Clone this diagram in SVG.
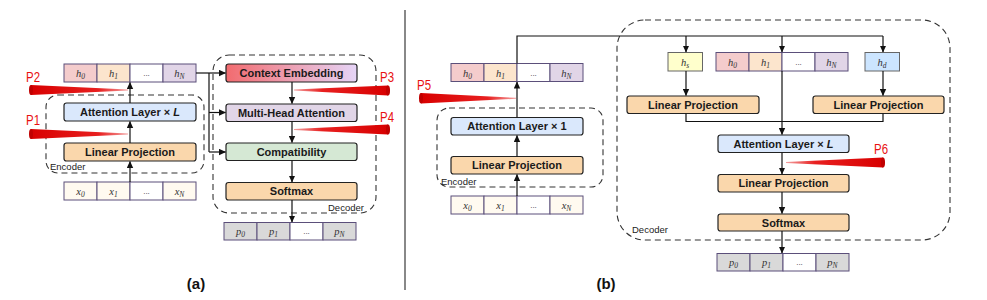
<svg xmlns="http://www.w3.org/2000/svg" width="987" height="300" viewBox="0 0 987 300">
<defs>
<marker id="arr" markerWidth="7" markerHeight="7" refX="6.5" refY="3.5" orient="auto" markerUnits="userSpaceOnUse"><path d="M0,0.3 L7,3.5 L0,6.7 z" fill="#111"/></marker>
<linearGradient id="ceGrad" x1="0" y1="0" x2="1" y2="0"><stop offset="0" stop-color="#f26b6f"/><stop offset="1" stop-color="#e6d5f8"/></linearGradient>
<linearGradient id="coneL" x1="0" y1="0" x2="1" y2="0"><stop offset="0" stop-color="#d80000"/><stop offset="0.7" stop-color="#e82020"/><stop offset="1" stop-color="#f3a0a0"/></linearGradient>
<linearGradient id="coneR" x1="1" y1="0" x2="0" y2="0"><stop offset="0" stop-color="#d80000"/><stop offset="0.7" stop-color="#e82020"/><stop offset="1" stop-color="#f3a0a0"/></linearGradient>
</defs>
<style>
.box{stroke:#222;stroke-width:1.2}
.lbl{font-family:"Liberation Sans",Arial,sans-serif;font-weight:bold;font-size:11px;fill:#1a1a1a;text-anchor:middle}
.cell{stroke:#5b4f7a;stroke-width:1}
.math{font-family:"Liberation Serif","Times New Roman",serif;font-style:italic;font-size:10.5px;fill:#333;text-anchor:middle}
.sub{font-size:7.5px}
.dots{font-family:"Liberation Sans",Arial,sans-serif;font-size:8px;fill:#333;text-anchor:middle}
.dash{fill:none;stroke:#333;stroke-width:1.1;stroke-dasharray:6,4}
.grp{font-family:"Liberation Sans",Arial,sans-serif;font-size:9.5px;fill:#222}
.pl{font-family:"Liberation Sans",Arial,sans-serif;font-size:14px;fill:#e81010}
.ln{fill:none;stroke:#111;stroke-width:1.2}
.cap{font-family:"Liberation Sans",Arial,sans-serif;font-weight:bold;font-size:15px;fill:#111;text-anchor:middle}
.pink{fill:#f4cccc}.peach{fill:#fce5cd}.white{fill:#fff}.lav{fill:#e1d5e7}.cream{fill:#fffaf0}.grey{fill:#d9d9d9}
</style>
<rect width="987" height="300" fill="#fff"/>
<line x1="405" y1="10" x2="405" y2="290" stroke="#888" stroke-width="2"/>

<!-- ===== Panel (a) ===== -->
<g id="encoder-a"><rect class="dash" x="46" y="95" width="158" height="78" rx="12"/><text class="grp" x="50" y="170">Encoder</text></g>
<g id="decoder-a"><rect class="dash" x="213" y="55" width="163" height="158" rx="16"/><text class="grp" x="328" y="211">Decoder</text></g>

<g id="h-row-a">
<rect class="cell pink" x="64" y="64" width="33" height="18"/><rect class="cell peach" x="97" y="64" width="33" height="18"/><rect class="cell white" x="130" y="64" width="33" height="18"/><rect class="cell lav" x="163" y="64" width="33" height="18"/>
<text class="math" x="80.5" y="77">h<tspan class="sub" dy="2">0</tspan></text><text class="math" x="113.5" y="77">h<tspan class="sub" dy="2">1</tspan></text><text class="dots" x="146.5" y="76">...</text><text class="math" x="179.5" y="77">h<tspan class="sub" dy="2">N</tspan></text>
</g>
<g id="attn-a"><rect class="box" x="64" y="103" width="132" height="18" rx="2.5" fill="#dae8fc"/><text class="lbl" x="130" y="116">Attention Layer × <tspan font-style="italic">L</tspan></text></g>
<g id="lp-a"><rect class="box" x="64" y="143" width="132" height="18" rx="2.5" fill="#fad7ac"/><text class="lbl" x="130" y="156">Linear Projection</text></g>
<g id="x-row-a">
<rect class="cell cream" x="64" y="182" width="33" height="18"/><rect class="cell cream" x="97" y="182" width="33" height="18"/><rect class="cell white" x="130" y="182" width="33" height="18"/><rect class="cell cream" x="163" y="182" width="33" height="18"/>
<text class="math" x="80.5" y="195">x<tspan class="sub" dy="2">0</tspan></text><text class="math" x="113.5" y="195">x<tspan class="sub" dy="2">1</tspan></text><text class="dots" x="146.5" y="194">...</text><text class="math" x="179.5" y="195">x<tspan class="sub" dy="2">N</tspan></text>
</g>

<g id="ce-a"><rect class="box" x="226" y="64" width="131" height="18" rx="2.5" fill="url(#ceGrad)"/><text class="lbl" x="291.5" y="77">Context Embedding</text></g>
<g id="mha-a"><rect class="box" x="226" y="104" width="131" height="17.5" rx="2.5" fill="#e1d5e7"/><text class="lbl" x="291.5" y="116.5">Multi-Head Attention</text></g>
<g id="comp-a"><rect class="box" x="226" y="143" width="131" height="17.5" rx="2.5" fill="#d5e8d4"/><text class="lbl" x="291.5" y="155.5">Compatibility</text></g>
<g id="softmax-a"><rect class="box" x="226" y="182.5" width="131" height="17.5" rx="2.5" fill="#fad7ac"/><text class="lbl" x="291.5" y="195">Softmax</text></g>
<g id="p-row-a">
<rect class="cell grey" x="224" y="222.5" width="33" height="17.5"/><rect class="cell grey" x="257" y="222.5" width="33" height="17.5"/><rect class="cell white" x="290" y="222.5" width="33" height="17.5"/><rect class="cell grey" x="323" y="222.5" width="33" height="17.5"/>
<text class="math" x="240.5" y="235">p<tspan class="sub" dy="2">0</tspan></text><text class="math" x="273.5" y="235">p<tspan class="sub" dy="2">1</tspan></text><text class="dots" x="306.5" y="234">...</text><text class="math" x="339.5" y="235">p<tspan class="sub" dy="2">N</tspan></text>
</g>

<g id="connectors-a">
<line class="ln" x1="130" y1="182" x2="130" y2="161.5" marker-end="url(#arr)"/>
<line class="ln" x1="130" y1="143" x2="130" y2="121.5" marker-end="url(#arr)"/>
<line class="ln" x1="130" y1="103" x2="130" y2="82.5" marker-end="url(#arr)"/>
<line class="ln" x1="196" y1="73" x2="225.5" y2="73" marker-end="url(#arr)"/>
<polyline class="ln" points="209,73 209,152"/>
<line class="ln" x1="209" y1="112.5" x2="225.5" y2="112.5" marker-end="url(#arr)"/>
<line class="ln" x1="209" y1="152" x2="225.5" y2="152" marker-end="url(#arr)"/>
<line class="ln" x1="292" y1="82" x2="292" y2="103.5" marker-end="url(#arr)"/>
<line class="ln" x1="292" y1="121.5" x2="292" y2="142.5" marker-end="url(#arr)"/>
<line class="ln" x1="292" y1="160.5" x2="292" y2="182" marker-end="url(#arr)"/>
<line class="ln" x1="292" y1="200" x2="292" y2="222" marker-end="url(#arr)"/>
</g>

<g id="probes-a">
<polygon points="31,85 128,89.5 128,90.5 31,95" fill="url(#coneL)"/><ellipse cx="31" cy="90" rx="2" ry="5" fill="#c00000"/><text class="pl" x="26" y="82" textLength="14" lengthAdjust="spacingAndGlyphs">P2</text>
<polygon points="31,129 128,133.5 128,134.5 31,139" fill="url(#coneL)"/><ellipse cx="31" cy="134" rx="2" ry="5" fill="#c00000"/><text class="pl" x="26" y="125" textLength="14" lengthAdjust="spacingAndGlyphs">P1</text>
<polygon points="388,85.5 294,89.5 294,90.5 388,95.5" fill="url(#coneR)"/><ellipse cx="388" cy="90.5" rx="2" ry="5" fill="#c00000"/><text class="pl" x="380" y="82" textLength="14" lengthAdjust="spacingAndGlyphs">P3</text>
<polygon points="388,124.5 294,129 294,130 388,134.5" fill="url(#coneR)"/><ellipse cx="388" cy="129.5" rx="2" ry="5" fill="#c00000"/><text class="pl" x="380" y="121.5" textLength="14" lengthAdjust="spacingAndGlyphs">P4</text>
</g>
<text class="cap" x="196" y="289">(a)</text>

<!-- ===== Panel (b) ===== -->
<g id="encoder-b"><rect class="dash" x="437" y="108" width="166" height="79" rx="12"/><text class="grp" x="441" y="185">Encoder</text></g>
<g id="decoder-b"><rect class="dash" x="617" y="20" width="333" height="220" rx="28"/><text class="grp" x="632" y="233">Decoder</text></g>

<g id="h-row-b">
<rect class="cell pink" x="451" y="63.5" width="33" height="18"/><rect class="cell peach" x="484" y="63.5" width="33" height="18"/><rect class="cell white" x="517" y="63.5" width="33" height="18"/><rect class="cell lav" x="550" y="63.5" width="33" height="18"/>
<text class="math" x="467.5" y="76.5">h<tspan class="sub" dy="2">0</tspan></text><text class="math" x="500.5" y="76.5">h<tspan class="sub" dy="2">1</tspan></text><text class="dots" x="533.5" y="75.5">...</text><text class="math" x="566.5" y="76.5">h<tspan class="sub" dy="2">N</tspan></text>
</g>
<g id="attn1-b"><rect class="box" x="451" y="117.5" width="132" height="17.5" rx="2.5" fill="#dae8fc"/><text class="lbl" x="517" y="130">Attention Layer × 1</text></g>
<g id="lp-enc-b"><rect class="box" x="451" y="156.5" width="132" height="17.5" rx="2.5" fill="#fad7ac"/><text class="lbl" x="517" y="169">Linear Projection</text></g>
<g id="x-row-b">
<rect class="cell cream" x="451" y="196" width="33" height="18"/><rect class="cell cream" x="484" y="196" width="33" height="18"/><rect class="cell white" x="517" y="196" width="33" height="18"/><rect class="cell cream" x="550" y="196" width="33" height="18"/>
<text class="math" x="467.5" y="209">x<tspan class="sub" dy="2">0</tspan></text><text class="math" x="500.5" y="209">x<tspan class="sub" dy="2">1</tspan></text><text class="dots" x="533.5" y="208">...</text><text class="math" x="566.5" y="209">x<tspan class="sub" dy="2">N</tspan></text>
</g>

<g id="hs-b"><rect x="668" y="52.5" width="34.5" height="18.5" fill="#ffffcc" stroke="#666" stroke-width="1"/><text class="math" x="685" y="65.5">h<tspan class="sub" dy="2">s</tspan></text></g>
<g id="h-row-dec-b">
<rect class="cell pink" x="716" y="52.5" width="33" height="18.5"/><rect class="cell peach" x="749" y="52.5" width="33" height="18.5"/><rect class="cell white" x="782" y="52.5" width="33" height="18.5"/><rect class="cell lav" x="815" y="52.5" width="33" height="18.5"/>
<text class="math" x="732.5" y="65.5">h<tspan class="sub" dy="2">0</tspan></text><text class="math" x="765.5" y="65.5">h<tspan class="sub" dy="2">1</tspan></text><text class="dots" x="798.5" y="64.5">...</text><text class="math" x="831.5" y="65.5">h<tspan class="sub" dy="2">N</tspan></text>
</g>
<g id="hd-b"><rect x="865" y="52.5" width="34.5" height="18.5" fill="#cce5ff" stroke="#666" stroke-width="1"/><text class="math" x="882" y="65.5">h<tspan class="sub" dy="2">d</tspan></text></g>
<g id="lp-left-b"><rect class="box" x="627" y="96" width="132" height="17.5" rx="2.5" fill="#fad7ac"/><text class="lbl" x="693" y="108.5">Linear Projection</text></g>
<g id="lp-right-b"><rect class="box" x="813" y="96" width="131" height="17.5" rx="2.5" fill="#fad7ac"/><text class="lbl" x="878.5" y="108.5">Linear Projection</text></g>
<g id="attnL-b"><rect class="box" x="718" y="135" width="131" height="17.5" rx="2.5" fill="#dae8fc"/><text class="lbl" x="783.5" y="147.5">Attention Layer × <tspan font-style="italic">L</tspan></text></g>
<g id="lp-dec-b"><rect class="box" x="718" y="174.5" width="131" height="17.5" rx="2.5" fill="#fad7ac"/><text class="lbl" x="783.5" y="187">Linear Projection</text></g>
<g id="softmax-b"><rect class="box" x="718" y="214" width="131" height="17" rx="2.5" fill="#fad7ac"/><text class="lbl" x="783.5" y="226.5">Softmax</text></g>
<g id="p-row-b">
<rect class="cell grey" x="717" y="253.5" width="33" height="17.5"/><rect class="cell grey" x="750" y="253.5" width="33" height="17.5"/><rect class="cell white" x="783" y="253.5" width="33" height="17.5"/><rect class="cell grey" x="816" y="253.5" width="33" height="17.5"/>
<text class="math" x="733.5" y="266">p<tspan class="sub" dy="2">0</tspan></text><text class="math" x="766.5" y="266">p<tspan class="sub" dy="2">1</tspan></text><text class="dots" x="799.5" y="265">...</text><text class="math" x="832.5" y="266">p<tspan class="sub" dy="2">N</tspan></text>
</g>

<g id="connectors-b">
<line class="ln" x1="517" y1="196" x2="517" y2="174.5" marker-end="url(#arr)"/>
<line class="ln" x1="517" y1="156.5" x2="517" y2="135.5" marker-end="url(#arr)"/>
<line class="ln" x1="517" y1="117.5" x2="517" y2="82" marker-end="url(#arr)"/>
<polyline class="ln" points="517,63.5 517,36 883,36"/>
<line class="ln" x1="686" y1="36" x2="686" y2="52" marker-end="url(#arr)"/>
<line class="ln" x1="782" y1="36" x2="782" y2="52" marker-end="url(#arr)"/>
<line class="ln" x1="883" y1="36" x2="883" y2="52" marker-end="url(#arr)"/>
<line class="ln" x1="686" y1="71" x2="686" y2="95.5" marker-end="url(#arr)"/>
<line class="ln" x1="883" y1="71" x2="883" y2="95.5" marker-end="url(#arr)"/>
<polyline class="ln" points="686,113.5 686,121.5 883,121.5 883,113.5"/>
<line class="ln" x1="782" y1="71" x2="782" y2="134.5" marker-end="url(#arr)"/>
<line class="ln" x1="782" y1="152.5" x2="782" y2="174" marker-end="url(#arr)"/>
<line class="ln" x1="782" y1="192" x2="782" y2="213.5" marker-end="url(#arr)"/>
<line class="ln" x1="782" y1="231" x2="782" y2="253" marker-end="url(#arr)"/>
</g>

<g id="probes-b">
<polygon points="421,93 516,97.8 516,98.8 421,103.5" fill="url(#coneL)"/><ellipse cx="421" cy="98.2" rx="2" ry="5.2" fill="#c00000"/><text class="pl" x="417" y="89.5" textLength="14" lengthAdjust="spacingAndGlyphs">P5</text>
<polygon points="883,157.5 786,162 786,163 883,167.5" fill="url(#coneR)"/><ellipse cx="883" cy="162.5" rx="2" ry="5" fill="#c00000"/><text class="pl" x="874" y="153.5" textLength="14" lengthAdjust="spacingAndGlyphs">P6</text>
</g>
<text class="cap" x="606" y="289">(b)</text>
</svg>
